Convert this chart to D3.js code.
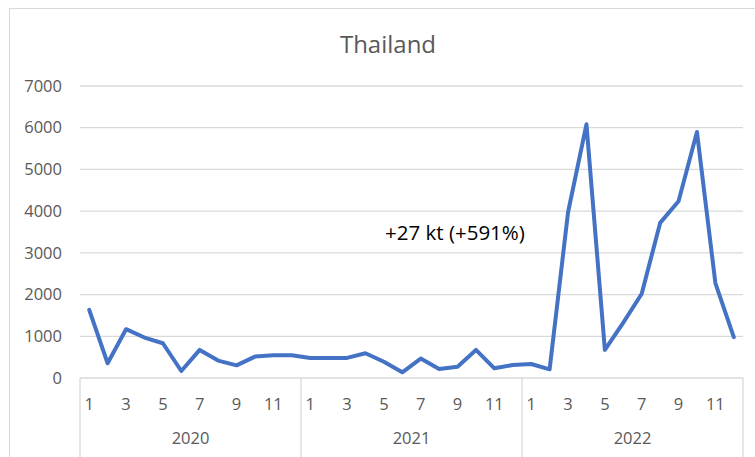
<!DOCTYPE html>
<html>
<head>
<meta charset="utf-8">
<script src="https://cdn.jsdelivr.net/npm/d3@7"></script>
<style>
  html, body { margin: 0; padding: 0; background: #fff; }
  svg { display: block; font-family: "Open Sans", "Noto Sans", sans-serif; }
</style>
</head>
<body>
<svg id="chart" width="755" height="457"></svg>
<script>
// Monthly values, Jan 2020 – Dec 2022
const years = ["2020", "2021", "2022"];
const months = [1, 2, 3, 4, 5, 6, 7, 8, 9, 10, 11, 12];
const values2020 = [1635, 353, 1170, 970, 833, 168, 673, 417, 304, 513, 545, 545];
const values2021 = [481, 481, 481, 593, 390, 137, 465, 216, 272, 673, 232, 312];
const values2022 = [336, 208, 3974, 6082, 673, 1330, 2019, 3718, 4239, 5897, 2276, 978];
const yTicks = [0, 1000, 2000, 3000, 4000, 5000, 6000, 7000];
const title = "Thailand";
const note = "+27 kt (+591%)";

const series = [values2020, values2021, values2022];
const data = [];
years.forEach((yr, yi) => months.forEach((m, mi) => {
  data.push({ key: yr + "-" + m, year: yr, month: m, value: series[yi][mi] });
}));

const svg = d3.select("#chart");
const plotLeft = 80, plotRight = 743, plotTop = 86, plotBottom = 378;
const labelSize = "16.5px";

// chart frame
svg.append("rect")
  .attr("x", 9.5).attr("y", 8.5)
  .attr("width", 800).attr("height", 500)
  .attr("fill", "none").attr("stroke", "#d9d9d9").attr("stroke-width", 1);

const x = d3.scaleBand().domain(data.map(d => d.key)).range([plotLeft, plotRight]);
const y = d3.scaleLinear().domain([0, 7000]).range([plotBottom, plotTop]);

// horizontal gridlines
svg.append("g").selectAll("line").data(yTicks.filter(t => t > 0)).join("line")
  .attr("x1", plotLeft).attr("x2", plotRight)
  .attr("y1", d => y(d)).attr("y2", d => y(d))
  .attr("stroke", "#d9d9d9").attr("stroke-width", 1.3);

// y axis labels
const yAxis = d3.axisLeft(y).tickValues(yTicks).tickFormat(d3.format("d"))
  .tickSize(0).tickPadding(18);
svg.append("g").attr("transform", `translate(${plotLeft},0)`).call(yAxis)
  .call(g => g.select(".domain").remove())
  .call(g => g.selectAll("text")
    .attr("fill", "#595959").attr("font-size", labelSize)
    .attr("font-family", "'Open Sans', 'Noto Sans', sans-serif"));

// category axis: baseline and year separators
svg.append("line")
  .attr("x1", plotLeft).attr("x2", plotRight)
  .attr("y1", plotBottom).attr("y2", plotBottom)
  .attr("stroke", "#d9d9d9").attr("stroke-width", 1.3);

const yearBounds = years.map(yr => ({
  yr,
  x0: x(yr + "-1"),
  x1: x(yr + "-12") + x.bandwidth()
}));
const seps = [yearBounds[0].x0].concat(yearBounds.map(b => b.x1));
svg.append("g").selectAll("line").data(seps).join("line")
  .attr("x1", d => d).attr("x2", d => d)
  .attr("y1", plotBottom).attr("y2", 457)
  .attr("stroke", "#d9d9d9").attr("stroke-width", 1.3);

// month labels (odd months)
svg.append("g").selectAll("text").data(data.filter(d => d.month % 2 === 1)).join("text")
  .attr("x", d => x(d.key) + x.bandwidth() / 2)
  .attr("y", 410)
  .attr("text-anchor", "middle")
  .attr("fill", "#595959").attr("font-size", labelSize)
  .text(d => d.month);

// year labels
svg.append("g").selectAll("text").data(yearBounds).join("text")
  .attr("x", d => (d.x0 + d.x1) / 2)
  .attr("y", 444)
  .attr("text-anchor", "middle")
  .attr("fill", "#595959").attr("font-size", labelSize)
  .text(d => d.yr);

// series line
const line = d3.line()
  .x(d => x(d.key) + x.bandwidth() / 2)
  .y(d => y(d.value));
svg.append("path").datum(data)
  .attr("d", line)
  .attr("fill", "none")
  .attr("stroke", "#4472C4")
  .attr("stroke-width", 4)
  .attr("stroke-linejoin", "round")
  .attr("stroke-linecap", "round");

// title
svg.append("text")
  .attr("x", 388).attr("y", 53)
  .attr("text-anchor", "middle")
  .attr("fill", "#595959").attr("font-size", "24px")
  .text(title);

// annotation
svg.append("text")
  .attr("x", 385).attr("y", 240)
  .attr("fill", "#000").attr("font-size", "20.5px")
  .text(note);
</script>
</body>
</html>
